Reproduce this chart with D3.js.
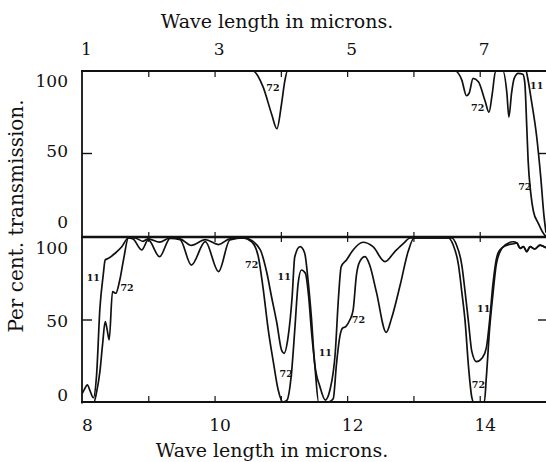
<!DOCTYPE html>
<html>
<head>
<meta charset="utf-8">
<script src="https://cdn.jsdelivr.net/npm/d3@7"></script>
<style>
  body { margin: 0; background: #fff; }
  text { font-family: "DejaVu Serif", serif; fill: #111; }
</style>
</head>
<body>
<div id="chart"></div>
<script>
"use strict";

// == DATA (wave length in microns, per cent transmission) ==
var topTicks = [1, 3, 5, 7];
var bottomTicks = [8, 10, 12, 14];
var percentTicks = [0, 50, 100];

// upper panel, 1 - 8 microns
var top72 = [[1, 100], [3.58, 100], [3.73, 90.5], [3.86, 74], [3.94, 65], [4.01, 80], [4.06, 94], [4.10, 100],
  [6.63, 100], [6.73, 94.5], [6.80, 85], [6.84, 86.5], [6.90, 95.5], [6.98, 93.5], [7.08, 82], [7.14, 75],
  [7.19, 86.5], [7.24, 100], [7.35, 100], [7.41, 86.5], [7.44, 72], [7.48, 86.5], [7.52, 95.5], [7.58, 98.6],
  [7.65, 98], [7.68, 93], [7.71, 66], [7.73, 46], [7.77, 26], [7.81, 15], [7.88, 8], [7.98, 0.6], [8, 0]];
var top11 = [[1, 100], [7.70, 100], [7.72, 96.5], [7.78, 82], [7.86, 60], [7.92, 36], [7.97, 12], [8, 2]];

// lower panel, 8 - 15 microns
var bottom11 = [[8.0, 5], [8.04, 8], [8.08, 10.4], [8.12, 7], [8.17, 2.6], [8.22, 16.5], [8.27, 57], [8.32, 77.4],
  [8.35, 86.6], [8.40, 87.6], [8.50, 90.7], [8.60, 94.7], [8.70, 100], [8.80, 100], [8.92, 98], [9.0, 99.5],
  [9.17, 97.5], [9.33, 100], [9.48, 99.5], [9.65, 95.5], [9.86, 99], [10.06, 96], [10.23, 99.5], [10.45, 100],
  [10.51, 99.5], [10.69, 92.7], [10.79, 78.5], [10.86, 64], [10.94, 48], [11.01, 31.7], [11.05, 29.7],
  [11.11, 39.8], [11.17, 64], [11.21, 88.6], [11.29, 94.7], [11.36, 90.7], [11.41, 74.4], [11.46, 52],
  [11.51, 23.6], [11.59, 9.3], [11.67, 1.2], [11.74, 7.3], [11.82, 29.7], [11.87, 64], [11.91, 82.5],
  [11.99, 86.6], [12.09, 92.7], [12.24, 97.4], [12.39, 94.7], [12.57, 85.6], [12.72, 91.7], [12.85, 96.7],
  [12.95, 100], [13.58, 100], [13.65, 95.7], [13.73, 83.5], [13.78, 67], [13.83, 49], [13.88, 31],
  [13.95, 24.6], [14.04, 27], [14.10, 33], [14.15, 50], [14.20, 72], [14.25, 87], [14.30, 92.5],
  [14.40, 95.5], [14.51, 96.5], [14.56, 97], [14.61, 93.7], [14.66, 94.7], [14.71, 91.7], [14.76, 94.7],
  [14.83, 93.3], [14.91, 95.7], [15, 94]];
var bottom72 = [[8.0, 0], [8.18, 0], [8.22, 6], [8.27, 18.5], [8.31, 35], [8.35, 49], [8.38, 44], [8.41, 37.8],
  [8.46, 67.3], [8.51, 66.3], [8.57, 74.4], [8.63, 87.6], [8.70, 100], [8.77, 99.4], [8.90, 92.7], [9.0, 98.8],
  [9.17, 88.6], [9.33, 99.8], [9.48, 99], [9.65, 83.5], [9.86, 97.8], [10.06, 79.5], [10.23, 98.8], [10.43, 100],
  [10.56, 97.7], [10.66, 88.6], [10.73, 70], [10.81, 44], [10.89, 23.6], [10.96, 7.3], [11.03, 0], [11.09, 1],
  [11.16, 17.5], [11.21, 44], [11.26, 72], [11.31, 80.5], [11.37, 78.5], [11.42, 64], [11.46, 44],
  [11.51, 23.6], [11.57, 0], [11.72, 0], [11.79, 2], [11.84, 23.6], [11.89, 40], [11.93, 45], [11.98, 46],
  [12.04, 50], [12.09, 56], [12.14, 77.4], [12.19, 85.6], [12.27, 88.6], [12.34, 83.5], [12.44, 67.3],
  [12.59, 42.5], [12.67, 51], [12.80, 71.3], [12.92, 91.7], [13.01, 100], [13.53, 100], [13.60, 95.7],
  [13.68, 83.5], [13.73, 67], [13.78, 49], [13.83, 22], [13.88, 3], [13.91, 0], [14.07, 0], [14.10, 15],
  [14.15, 45], [14.20, 66], [14.25, 84], [14.30, 91], [14.38, 95.7], [14.51, 97.7], [14.56, 97],
  [14.61, 93.7], [14.66, 94.7], [14.71, 91.7], [14.76, 94.7], [14.83, 93.3], [14.91, 95.7], [15, 94]];

// curve labels: [wave length, per cent, text]
var topLabels = [[3.88, 89.7, "72"], [6.97, 77.6, "72"], [7.86, 91, "11"], [7.68, 30, "72"]];
var bottomLabels = [[8.17, 76, "11"], [8.68, 69.5, "72"], [10.56, 83.5, "72"], [11.05, 76.4, "11"],
  [11.08, 17, "72"], [11.67, 30, "11"], [12.17, 50, "72"], [14.06, 57, "11"], [13.98, 10.4, "72"]];

// == BOILERPLATE ==
var width = 546, height = 462;

var svg = d3.select("#chart")
            .append("svg")
            .attr("width", width)
            .attr("height", height);

var xTop = d3.scaleLinear().domain([1, 8]).range([82, 546]);
var xBottom = d3.scaleLinear().domain([8, 15]).range([82, 546]);
var yTop = d3.scaleLinear().domain([0, 100]).range([236, 71]);
var yBottom = d3.scaleLinear().domain([0, 100]).range([402, 238]);

// printed numbers sit a little inside the frame lines
var yTopText = yTop.copy().range([222, 81]);
var yBottomText = yBottom.copy().range([395, 248]);

var defs = svg.append("defs");
defs.append("clipPath").attr("id", "clipTop")
    .append("rect").attr("x", 82).attr("y", 70).attr("width", 464).attr("height", 167);
defs.append("clipPath").attr("id", "clipBottom")
    .append("rect").attr("x", 82).attr("y", 236).attr("width", 464).attr("height", 167);

// == CURVES ==
var drawPanel = function(x, y, series, labels, clip) {
  var line = d3.line()
               .x(function (d) { return x(d[0]); })
               .y(function (d) { return y(d[1]); })
               .curve(d3.curveMonotoneX);

  var g = svg.append("g").attr("clip-path", "url(#" + clip + ")");

  g.selectAll("path.curve")
   .data(series)
   .enter()
   .append("path")
   .attr("class", "curve")
   .attr("d", line)
   .attr("fill", "none")
   .attr("stroke", "#111")
   .attr("stroke-width", 1.7)
   .attr("stroke-linejoin", "round");

  svg.selectAll(null)
     .data(labels)
     .enter()
     .append("text")
     .attr("x", function (d) { return x(d[0]); })
     .attr("y", function (d) { return y(d[1]); })
     .attr("dy", "0.35em")
     .attr("text-anchor", "middle")
     .attr("font-size", "9.5px")
     .attr("font-weight", "bold")
     .text(function (d) { return d[2]; });
};

drawPanel(xTop, yTop, [top72, top11], topLabels, "clipTop");
drawPanel(xBottom, yBottom, [bottom72, bottom11], bottomLabels, "clipBottom");

// == FRAME ==
var frame = svg.append("g").attr("stroke", "#111").attr("fill", "none");
frame.append("line").attr("x1", 82).attr("x2", 82).attr("y1", 70).attr("y2", 403.5).attr("stroke-width", 1.8);
frame.append("line").attr("x1", 81).attr("x2", 546).attr("y1", yTop(100)).attr("y2", yTop(100)).attr("stroke-width", 2.2);
frame.append("line").attr("x1", 81).attr("x2", 546).attr("y1", 237).attr("y2", 237).attr("stroke-width", 2.6);
frame.append("line").attr("x1", 81).attr("x2", 546).attr("y1", yBottom(0)).attr("y2", yBottom(0)).attr("stroke-width", 2.2);

// small 50 ticks on both sides
[yTop, yBottom].forEach(function (y) {
  frame.append("line").attr("x1", 82).attr("x2", 92).attr("y1", y(50)).attr("y2", y(50)).attr("stroke-width", 1.4);
  frame.append("line").attr("x1", 538).attr("x2", 546).attr("y1", y(50)).attr("y2", y(50)).attr("stroke-width", 1.4);
});

// == AXES ==
var tickAxis = function(axis, ty) {
  var g = svg.append("g")
             .attr("transform", "translate(0," + ty + ")")
             .call(axis.tickFormat("").tickSizeOuter(0));
  g.select(".domain").remove();
  g.selectAll(".tick line").attr("stroke", "#111").attr("stroke-width", 1.2);
};

tickAxis(d3.axisBottom(xTop).tickValues(d3.range(2, 8)).tickSize(6), yTop(100));
tickAxis(d3.axisTop(xTop).tickValues(d3.range(2, 8)).tickSize(5), 237);
tickAxis(d3.axisBottom(xBottom).tickValues(d3.range(9, 15)).tickSize(5), 237);
tickAxis(d3.axisTop(xBottom).tickValues(d3.range(9, 15)).tickSize(6), yBottom(0));

var labelAxis = function(axis, tx, ty) {
  var g = svg.append("g")
             .attr("transform", "translate(" + tx + "," + ty + ")")
             .call(axis.tickSize(0).tickFormat(d3.format("d")));
  g.select(".domain").remove();
  g.selectAll("text")
   .attr("font-family", "DejaVu Serif")
   .attr("font-size", "17px")
   .attr("fill", "#111");
  return g;
};

labelAxis(d3.axisTop(xTop).tickValues(topTicks).tickPadding(16), 4, yTop(100));
labelAxis(d3.axisBottom(xBottom).tickValues(bottomTicks).tickPadding(17), 5, yBottom(0));
labelAxis(d3.axisLeft(yTopText).tickValues(percentTicks).tickPadding(14), 82, 0);
labelAxis(d3.axisLeft(yBottomText).tickValues(percentTicks).tickPadding(14), 82, 0);

// == TITLES ==
svg.append("text")
   .attr("x", 277).attr("y", 28)
   .attr("text-anchor", "middle")
   .attr("font-size", "19px")
   .text("Wave length in microns.");

svg.append("text")
   .attr("x", 272).attr("y", 457)
   .attr("text-anchor", "middle")
   .attr("font-size", "19px")
   .text("Wave length in microns.");

svg.append("text")
   .attr("transform", "translate(23,216) rotate(-90)")
   .attr("text-anchor", "middle")
   .attr("font-size", "20px")
   .text("Per cent. transmission.");
</script>
</body>
</html>
